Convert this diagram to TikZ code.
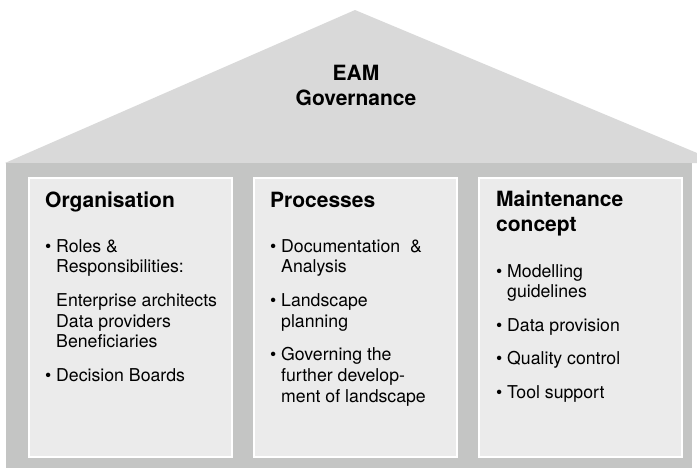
\documentclass[tikz,border=0pt]{standalone}
\usepackage{fontspec}
\setmainfont{TeX Gyre Heros}

\definecolor{roofgray}{RGB}{217,217,217}
\definecolor{bodygray}{RGB}{196,197,196}
\definecolor{boxgray}{RGB}{235,235,235}

\newcommand{\headfont}{\fontsize{21}{25.3}\selectfont\bfseries}
\newcommand{\listfont}{\fontsize{17.7}{20.8}\selectfont}
\newcommand{\bul}{\makebox[11pt][l]{\textbullet}}

\begin{document}
\begin{tikzpicture}[x=1pt,y=-1pt,
    pillar/.style={fill=boxgray,draw=white,line width=2pt},
    head/.style={font=\headfont,inner sep=0pt,anchor=base west},
    list/.style={font=\listfont,inner sep=0pt,anchor=base west}]
        \useasboundingbox (0,0) rectangle (697,469);
        \clip (0,0) rectangle (697,469);

        % strecha
        \fill[roofgray] (5,163) -- (355,10) -- (721,163) -- cycle;
        \node[head,anchor=base] (gov) at (356,80)
        {\begin{tabular}[t]{@{}c@{}}EAM\\Governance\end{tabular}};

        % telo domu
        \fill[bodygray] (6,163) rectangle (692,468);

        % sloupy
        \foreach \x in {28,253,478}
            \filldraw[pillar] (\x+1,178) rectangle (\x+204,457);

        % sloup 1
        \node[head] (org) at (45,207) {Organisation};
        \node[list] (orglist) at (45,252)
        {\begin{tabular}[t]{@{}l@{}l@{}}
            \bul & Roles \& \\
                 & Responsibilities:\\[12.6pt]
                 & Enterprise architects\\
                 & Data providers\\
                 & Beneficiaries\\[12.6pt]
            \bul & Decision Boards
        \end{tabular}};

        % sloup 2
        \node[head] (proc) at (270,207) {Processes};
        \node[list] (proclist) at (270,252)
        {\begin{tabular}[t]{@{}l@{}l@{}}
            \bul & Documentation\ \ \&\\
                 & Analysis\\[12.6pt]
            \bul & Landscape\\
                 & planning\\[12.6pt]
            \bul & Governing the\\
                 & further develop-\\
                 & ment of landscape
        \end{tabular}};

        % sloup 3
        \node[head] (maint) at (496,206)
        {\begin{tabular}[t]{@{}l@{}}Maintenance\\concept\end{tabular}};
        \node[list] (maintlist) at (496,277)
        {\begin{tabular}[t]{@{}l@{}l@{}}
            \bul & Modelling\\
                 & guidelines\\[12.6pt]
            \bul & Data provision\\[12.6pt]
            \bul & Quality control\\[12.6pt]
            \bul & Tool support
        \end{tabular}};
    \end{tikzpicture}
\end{document}
